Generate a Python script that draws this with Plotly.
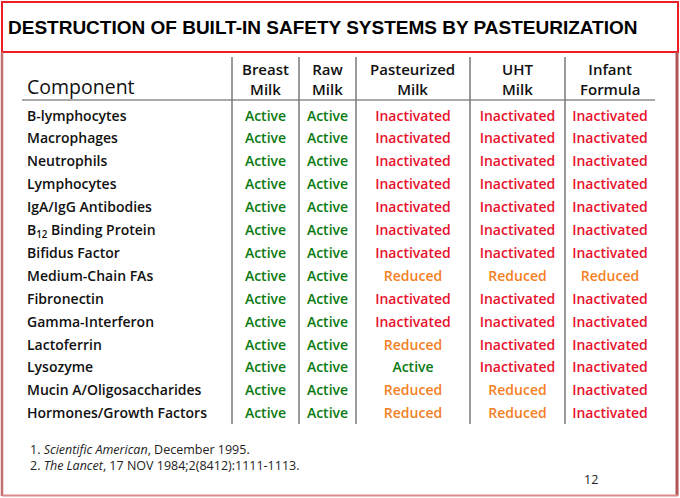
import plotly.graph_objects as go

# table contents
title = "DESTRUCTION OF BUILT-IN SAFETY SYSTEMS BY PASTEURIZATION"
components = ["B-lymphocytes", "Macrophages", "Neutrophils", "Lymphocytes", "IgA/IgG Antibodies",
              "B<sub>12</sub> Binding Protein", "Bifidus Factor", "Medium-Chain FAs", "Fibronectin",
              "Gamma-Interferon", "Lactoferrin", "Lysozyme", "Mucin A/Oligosaccharides",
              "Hormones/Growth Factors"]
columns = ["Breast<br>Milk", "Raw<br>Milk", "Pasteurized<br>Milk", "UHT<br>Milk", "Infant<br>Formula"]
breast_milk = ["Active"] * 14
raw_milk = ["Active"] * 14
pasteurized_milk = ["Inactivated"] * 7 + ["Reduced", "Inactivated", "Inactivated", "Reduced",
                                          "Active", "Reduced", "Reduced"]
uht_milk = ["Inactivated"] * 7 + ["Reduced"] + ["Inactivated"] * 4 + ["Reduced", "Reduced"]
infant_formula = ["Inactivated"] * 7 + ["Reduced"] + ["Inactivated"] * 6
footnotes = ["1. <i>Scientific American</i>, December 1995.",
             "2. <i>The Lancet</i>, 17 NOV 1984;2(8412):1111-1113."]
page_number = "12"

W, H = 680, 498
status_colors = {"Active": "#0b7a12", "Inactivated": "#e8122c", "Reduced": "#f4801f"}
col_edges = [232, 299, 356, 470, 565, 655]
centers = [(a + b) / 2 for a, b in zip(col_edges[:-1], col_edges[1:])]
row0, pitch = 117, 22.9
FONT = "Open Sans"


def py(y):
    return 1 - y / H


fig = go.Figure()

# component names
rows = list(range(len(components)))
fig.add_trace(go.Scatter(x=[27] * len(rows), y=rows, text=components, mode="text",
                         textposition="middle right",
                         textfont=dict(family=FONT, size=14, color="#111", weight=600),
                         hoverinfo="skip"))

# status cells
for cx, values in zip(centers, [breast_milk, raw_milk, pasteurized_milk, uht_milk, infant_formula]):
    fig.add_trace(go.Scatter(x=[cx] * len(values), y=rows, text=values, mode="text",
                             textposition="middle center",
                             textfont=dict(family=FONT, size=14, weight=600,
                                           color=[status_colors[v] for v in values]),
                             hoverinfo="skip"))

shapes = []
# title box and slide frame
shapes.append(dict(type="rect", xref="paper", yref="paper", x0=2 / W, x1=678 / W, y0=py(52), y1=py(2),
                   line=dict(color="#ee1c24", width=2)))
shapes.append(dict(type="line", xref="paper", yref="paper", x0=2 / W, x1=2 / W, y0=py(52), y1=py(496),
                   line=dict(color="#c47070", width=2.5)))
shapes.append(dict(type="line", xref="paper", yref="paper", x0=677 / W, x1=677 / W, y0=py(52), y1=py(496),
                   line=dict(color="#b25555", width=3)))
shapes.append(dict(type="line", xref="paper", yref="paper", x0=2 / W, x1=678 / W, y0=py(495.5), y1=py(495.5),
                   line=dict(color="#dc8a8a", width=2)))
# header rule and column separators
shapes.append(dict(type="line", xref="paper", yref="paper", x0=22 / W, x1=655 / W, y0=py(100), y1=py(100),
                   line=dict(color="#8c8c8c", width=1.5)))
for xe in col_edges[:-1]:
    shapes.append(dict(type="line", xref="paper", yref="paper", x0=xe / W, x1=xe / W, y0=py(57), y1=py(424),
                       line=dict(color="#7a7a7a", width=1.5)))

annotations = [
    dict(text="<b>" + title + "</b>", x=6 / W, y=py(27), xanchor="left", yanchor="middle",
         font=dict(family="Liberation Sans", size=19, color="#000")),
    dict(text="Component", x=25 / W, y=py(87), xanchor="left", yanchor="middle",
         font=dict(family=FONT, size=19.5, color="#111", weight=500)),
]
for cx, name in zip(centers, columns):
    annotations.append(dict(text=name, x=cx / W, y=py(79), xanchor="center", yanchor="middle",
                            font=dict(family=FONT, size=15, color="#111", weight=600)))
annotations.append(dict(text="<br>".join(footnotes), x=28 / W, y=py(457), xanchor="left", yanchor="middle",
                        align="left", font=dict(family=FONT, size=12.5, color="#222")))
annotations.append(dict(text=page_number, x=591 / W, y=py(479), xanchor="center", yanchor="middle",
                        font=dict(family=FONT, size=12.5, color="#222")))
for a in annotations:
    a.update(xref="paper", yref="paper", showarrow=False)

fig.update_layout(
    width=W, height=H, margin=dict(l=0, r=0, t=0, b=0),
    paper_bgcolor="white", plot_bgcolor="white", showlegend=False,
    xaxis=dict(range=[0, W], visible=False, fixedrange=True),
    yaxis=dict(range=[(H - row0) / pitch, -row0 / pitch], visible=False, fixedrange=True),
    shapes=shapes, annotations=annotations,
)
fig.write_html("out.html", config={"displayModeBar": False},
               post_script="document.body.style.margin='0';document.body.style.overflow='hidden';")
